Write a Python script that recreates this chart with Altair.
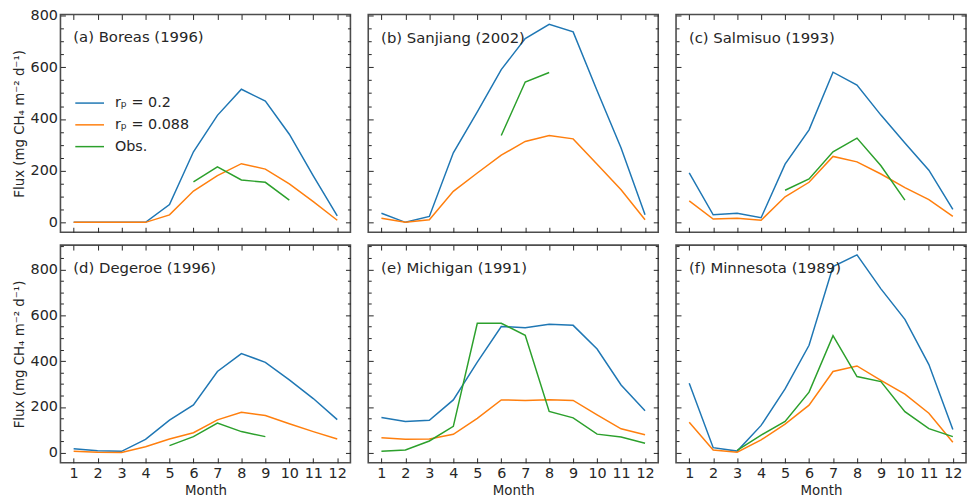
import altair as alt
import pandas as pd

# ---------------- data ----------------
months = list(range(1, 13))
sites = ["(a) Boreas (1996)", "(b) Sanjiang (2002)", "(c) Salmisuo (1993)",
         "(d) Degeroe (1996)", "(e) Michigan (1991)", "(f) Minnesota (1989)"]
series_names = ["rₚ = 0.2", "rₚ = 0.088", "Obs."]
series_colors = ["#1f77b4", "#ff7f0e", "#2ca02c"]

N = None
boreas_r02 = [0, 0, 0, 0, 69, 273, 414, 515, 469, 341, 180, 25]
boreas_r0088 = [0, 0, 0, 0, 29, 121, 181, 227, 206, 149, 80, 8]
boreas_obs = [N, N, N, N, N, 157, 215, 164, 155, 86, N, N]

sanjiang_r02 = [35, 0, 23, 269, 427, 591, 711, 766, 737, 509, 288, 29]
sanjiang_r0088 = [16, 0, 10, 120, 191, 260, 313, 336, 323, 225, 126, 10]
sanjiang_obs = [N, N, N, N, N, 336, 543, 580, N, N, N, N]

salmisuo_r02 = [191, 29, 35, 18, 225, 358, 581, 531, 415, 307, 202, 50]
salmisuo_r0088 = [83, 13, 16, 8, 99, 155, 255, 234, 187, 134, 88, 23]
salmisuo_obs = [N, N, N, N, 124, 168, 273, 326, 219, 86, N, N]

degeroe_r02 = [18, 10, 7, 59, 143, 209, 355, 433, 395, 318, 237, 145]
degeroe_r0088 = [7, 3, 2, 27, 61, 88, 144, 177, 163, 127, 93, 61]
degeroe_obs = [N, N, N, N, 32, 71, 130, 93, 71, N, N, N]

michigan_r02 = [154, 137, 142, 231, 396, 551, 546, 561, 556, 453, 296, 184]
michigan_r0088 = [66, 60, 61, 81, 151, 231, 229, 232, 229, 166, 105, 79]
michigan_obs = [7, 13, 52, 116, 565, 565, 513, 181, 153, 82, 69, 42]

minnesota_r02 = [304, 23, 8, 120, 279, 469, 812, 863, 715, 582, 385, 102]
minnesota_r0088 = [134, 13, 3, 57, 126, 208, 355, 379, 316, 256, 173, 47]
minnesota_obs = [N, N, 11, 78, 137, 265, 511, 333, 311, 180, 106, 71]

site_series = [
    (boreas_r02, boreas_r0088, boreas_obs),
    (sanjiang_r02, sanjiang_r0088, sanjiang_obs),
    (salmisuo_r02, salmisuo_r0088, salmisuo_obs),
    (degeroe_r02, degeroe_r0088, degeroe_obs),
    (michigan_r02, michigan_r0088, michigan_obs),
    (minnesota_r02, minnesota_r0088, minnesota_obs),
]

y_domains = [[-38.3, 804.3], [-43.1, 905.7]]
y_major = [0, 200, 400, 600, 800]
y_minor = [[v for v in range(50, 801, 50) if v % 200 != 0],
           [v for v in range(50, 901, 50) if v % 200 != 0]]
x_domain = [0.45, 12.55]

rows = []
for s, triple in zip(sites, site_series):
    for name, vals in zip(series_names, triple):
        for m, v in zip(months, vals):
            if v is not None:
                rows.append({"site": s, "month": m, "series": name, "value": v})
df = pd.DataFrame(rows)

# ---------------- style ----------------
FONT = "DejaVu Sans"
TXT = "#262626"
MAJ = 5
MIN = 3
FS_TICK = 14.5
FS_AXT = 13.5
FS_TITLE = 15
FS_LEG = 14.5
PW, PH = 293, 220
YTITLE = "Flux (mg CH₄ m⁻² d⁻¹)"


def ax(orient, values, size, labels=False, title=None):
    kw = dict(orient=orient, values=values, tickSize=size, offset=-size,
              domain=False, grid=False, labels=labels, tickColor=TXT,
              tickWidth=1, title=title)
    if labels:
        kw.update(labelFont=FONT, labelFontSize=FS_TICK, labelColor=TXT,
                  labelPadding=4 if orient == "bottom" else 3)
    if title:
        kw.update(titleFont=FONT, titleFontSize=FS_AXT, titleColor=TXT,
                  titleFontWeight="normal", titlePadding=3.5 if orient == "bottom" else 4)
    return alt.Axis(**kw)


def panel(i):
    row, col = divmod(i, 3)
    left = col == 0
    bottom = row == 1
    xs = alt.Scale(domain=x_domain, nice=False, zero=False)
    ys = alt.Scale(domain=y_domains[row], nice=False, zero=False)
    base = alt.Chart(df[df.site == sites[i]])

    cscale = alt.Scale(domain=series_names, range=series_colors)
    if i == 0:
        legend = alt.Legend(orient="none", legendX=14, legendY=74, title=None,
                            symbolType="stroke", symbolSize=841, symbolStrokeWidth=1.5,
                            labelFont=FONT, labelFontSize=FS_LEG, labelColor=TXT,
                            labelOffset=10, rowPadding=-0.8)
        color = alt.Color("series:N", scale=cscale, legend=legend)
    else:
        color = alt.Color("series:N", scale=cscale, legend=None)

    lines = base.mark_line(strokeWidth=1.5, clip=True).encode(
        x=alt.X("month:Q", scale=xs,
                axis=ax("bottom", months, MAJ, labels=bottom, title="Month" if bottom else None)),
        y=alt.Y("value:Q", scale=ys,
                axis=ax("left", y_major, MAJ, labels=left, title=YTITLE if left else None)),
        color=color,
    )
    ghost1 = base.mark_point(opacity=0).encode(
        x=alt.X("month:Q", scale=xs, axis=ax("top", months, MAJ)),
        y=alt.Y("value:Q", scale=ys, axis=ax("right", y_major, MAJ)),
    )
    ghost2 = base.mark_point(opacity=0).encode(
        x=alt.X("month:Q", scale=xs, axis=None),
        y=alt.Y("value:Q", scale=ys, axis=ax("left", y_minor[row], MIN)),
    )
    ghost3 = base.mark_point(opacity=0).encode(
        x=alt.X("month:Q", scale=xs, axis=None),
        y=alt.Y("value:Q", scale=ys, axis=ax("right", y_minor[row], MIN)),
    )
    title_dy = 38 if i == 0 else 32
    return alt.layer(lines, ghost1, ghost2, ghost3).resolve_axis(
        x="independent", y="independent"
    ).properties(
        width=PW, height=PH,
        title=alt.TitleParams(sites[i], anchor="start", frame="group", dx=13, dy=title_dy,
                              offset=0, font=FONT, fontSize=FS_TITLE, fontWeight="normal",
                              color=TXT),
    )


top = alt.hconcat(panel(0), panel(1), panel(2), spacing=14).resolve_legend(color="independent")
bot = alt.hconcat(panel(3), panel(4), panel(5), spacing=14).resolve_legend(color="independent")
chart = alt.vconcat(top, bot, spacing=9).resolve_legend(color="independent").properties(
    padding={"top": -4, "left": 3, "right": 0, "bottom": 0}
).configure_view(stroke="#4d4d4d", strokeWidth=1.6)

chart.save("out.html", embed_options={"renderer": "svg", "actions": False})
